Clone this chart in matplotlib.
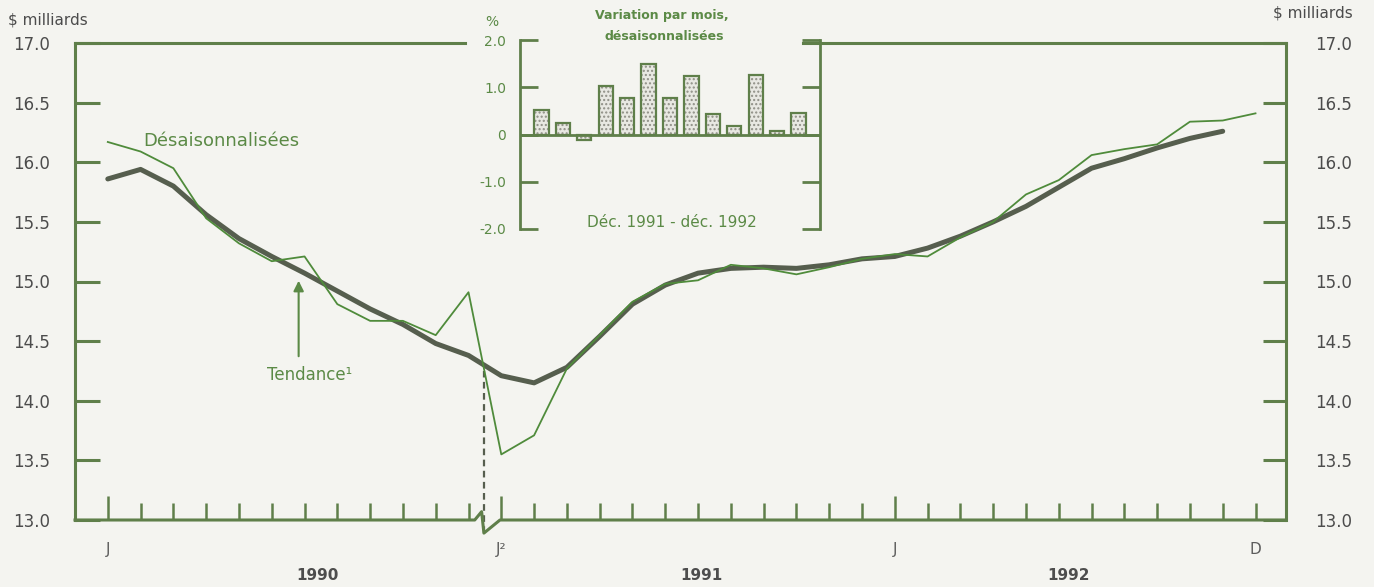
import numpy as np
import matplotlib.pyplot as plt
from matplotlib.transforms import blended_transform_factory

# monthly data, Jan 1990 .. Dec 1992 (index 0 = Jan 1990)
months = np.arange(36)
desaisonnalisees = [16.17, 16.09, 15.95, 15.53, 15.32, 15.17, 15.21, 14.81, 14.67, 14.67, 14.55, 14.91,
                    13.55, 13.71, 14.27, 14.55, 14.83, 14.98, 15.01, 15.14, 15.11, 15.06, 15.12, 15.19,
                    15.23, 15.21, 15.37, 15.50, 15.73, 15.85, 16.06, 16.11, 16.15, 16.34, 16.35, 16.41]
tendance = [15.86, 15.94, 15.80, 15.56, 15.36, 15.21, 15.07, 14.92, 14.77, 14.64, 14.48, 14.38,
            14.21, 14.15, 14.28, 14.54, 14.81, 14.97, 15.07, 15.11, 15.12, 15.11, 15.14, 15.19,
            15.21, 15.28, 15.38, 15.50, 15.63, 15.79, 15.95, 16.03, 16.12, 16.20, 16.26]
x_labels = {0: "J", 12: "J²", 24: "J", 35: "D"}
years = ["1990", "1991", "1992"]
year_pos = [6.4, 18.1, 29.3]
y_ticks = [13.0, 13.5, 14.0, 14.5, 15.0, 15.5, 16.0, 16.5, 17.0]

# inset: monthly change, Dec 1991 - Dec 1992
variation = [0.52, 0.24, -0.12, 1.03, 0.77, 1.49, 0.77, 1.24, 0.44, 0.17, 1.26, 0.08, 0.45]
inset_ticks = [-2.0, -1.0, 0.0, 1.0, 2.0]
inset_labels = ["-2.0", "-1.0", "0", "1.0", "2.0"]

W, H = 1374, 587
bg = "#f4f4f0"
axis_green = "#5f7f4a"
line_green = "#4f8b3b"
trend_col = "#565e4e"
text_green = "#5b8a46"
grey = "#4c4c4c"

plt.rcParams["font.family"] = ["DejaVu Sans"]

fig = plt.figure(figsize=(W / 100, H / 100), dpi=100, facecolor=bg)

# ---- main chart
ax = fig.add_axes([75 / W, 1 - 520 / H, (1286 - 75) / W, (520 - 43) / H])
ax.set_facecolor("none")
ax.set_xlim(-1.0, 35.93)
ax.set_ylim(13.0, 17.0)
for s in ["top", "bottom"]:
    ax.spines[s].set_visible(False)
for s in ["left", "right"]:
    ax.spines[s].set_color(axis_green)
    ax.spines[s].set_linewidth(2.2)


def px2m(px):
    return -1.0 + (px - 75) / (1286 - 75) * 36.93


ax.plot(months, desaisonnalisees, color=line_green, lw=1.3, zorder=4)
ax.plot(months[:len(tendance)], tendance, color=trend_col, lw=3.6,
        solid_capstyle="round", solid_joinstyle="round", zorder=3)

# y axis, left + right
ax.set_yticks(y_ticks)
ax.set_yticklabels([f"{v:.1f}" for v in y_ticks])
ax.tick_params(axis="y", direction="in", length=18, width=2.2, color=axis_green,
               pad=18, labelsize=12, labelcolor=grey)
ax2 = ax.twinx()
ax2.set_ylim(13.0, 17.0)
ax2.set_yticks(y_ticks)
ax2.set_yticklabels([f"{v:.1f}" for v in y_ticks])
ax2.tick_params(axis="y", direction="in", length=16.5, width=2.2, color=axis_green,
                pad=21, labelsize=12, labelcolor=grey)
for s in ax2.spines.values():
    s.set_visible(False)

# x axis with break
ax.set_xticks(months)
ax.set_xticklabels([x_labels.get(m, "") for m in months])
ax.tick_params(axis="x", direction="in", length=12, width=1.8, color=axis_green,
               pad=16, labelsize=11, labelcolor="#5c5c5c")
for m in [0, 12, 24]:
    ax.xaxis.get_major_ticks()[m].tick1line.set_markersize(17)

kw = dict(color=axis_green, lw=2.2, clip_on=False, zorder=5)
ax.plot([-1.0, 11.19, 11.40, 11.47, 11.96, 35.93],
        [13.0, 13.0, 13.07, 12.89, 13.0, 13.0], **kw)
ax.plot([11.47, 11.47], [12.89, 14.25], color=trend_col, lw=1.6, ls=(0, (3, 2)),
        clip_on=False, zorder=2)

# top border, interrupted by the inset
ax.plot([-1.0, px2m(465)], [17.0, 17.0], **kw)
ax.plot([px2m(803), 35.93], [17.0, 17.0], **kw)

for yr, p in zip(years, year_pos):
    ax.text(p, 1 - 575 / H, yr, transform=blended_transform_factory(ax.transData, fig.transFigure),
            ha="center", va="center", fontsize=11, fontweight="bold", color="#4d4d4d")

ax.text(px2m(143), 16.18, "Désaisonnalisées", ha="left", va="center", fontsize=13, color=text_green)
ax.text(6.17, 14.22, "Tendance¹", ha="center", va="center", fontsize=12, color=text_green)
ax.annotate("", xy=(5.82, 15.03), xytext=(5.82, 14.35),
            arrowprops=dict(arrowstyle="-|>", color=text_green, lw=1.5, mutation_scale=15))

fig.text(8 / W, 1 - 20 / H, "$ milliards", ha="left", va="center", fontsize=11, color=grey)
fig.text(1353 / W, 1 - 13 / H, "$ milliards", ha="right", va="center", fontsize=11, color=grey)

# ---- inset
ins = fig.add_axes([520 / W, 1 - 229 / H, 300 / W, (229 - 40) / H])
ins.set_facecolor("none")
ins.set_xlim(-1, 13)
ins.set_ylim(-2, 2)
pos = np.arange(len(variation))
ins.bar(pos, variation, width=0.67, color="#e8e8e2", edgecolor="#8f8f86", hatch="....", lw=0)
ins.bar(pos, variation, width=0.67, fill=False, edgecolor=axis_green, lw=1.6)
ins.axhline(0, color=axis_green, lw=2)
for s in ["top", "bottom"]:
    ins.spines[s].set_visible(False)
for s in ["left", "right"]:
    ins.spines[s].set_color(axis_green)
    ins.spines[s].set_linewidth(2)
ins.set_xticks([])
ins.set_yticks(inset_ticks)
ins.set_yticklabels(inset_labels)
ins.tick_params(axis="y", direction="in", length=13, width=2, color=axis_green,
                left=True, right=True, pad=10, labelsize=10, labelcolor=text_green)

fig.text(492 / W, 1 - 22 / H, "%", ha="center", va="center", fontsize=10, color=text_green)
fig.text(662 / W, 1 - 15 / H, "Variation par mois,", ha="center", va="center",
         fontsize=9, fontweight="bold", color=text_green)
fig.text(664 / W, 1 - 37 / H, "désaisonnalisées", ha="center", va="center",
         fontsize=9, fontweight="bold", color=text_green)
fig.text(672 / W, 1 - 222 / H, "Déc. 1991 - déc. 1992", ha="center", va="center",
         fontsize=11, color=text_green)

fig.savefig("out.png", dpi=100, facecolor=bg)
